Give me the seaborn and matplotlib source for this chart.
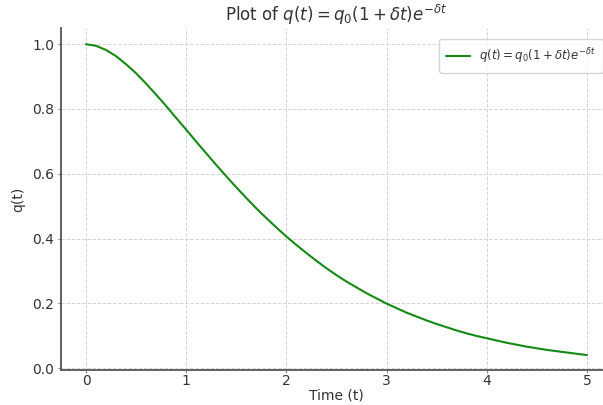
import matplotlib
matplotlib.use("Agg")
import matplotlib.pyplot as plt
import seaborn as sns
import pandas as pd

time_t = [0.0, 0.1, 0.2, 0.3, 0.4, 0.5, 0.6, 0.7, 0.8, 0.9,
          1.0, 1.1, 1.2, 1.3, 1.4, 1.5, 1.6, 1.7, 1.8, 1.9,
          2.0, 2.1, 2.2, 2.3, 2.4, 2.5, 2.6, 2.7, 2.8, 2.9,
          3.0, 3.1, 3.2, 3.3, 3.4, 3.5, 3.6, 3.7, 3.8, 3.9,
          4.0, 4.1, 4.2, 4.3, 4.4, 4.5, 4.6, 4.7, 4.8, 4.9, 5.0]
q_values = [1.000, 0.995, 0.982, 0.963, 0.938, 0.910, 0.878, 0.844, 0.809, 0.772,
            0.736, 0.699, 0.663, 0.627, 0.592, 0.558, 0.525, 0.493, 0.463, 0.434,
            0.406, 0.380, 0.355, 0.331, 0.308, 0.287, 0.267, 0.249, 0.231, 0.215,
            0.199, 0.185, 0.171, 0.159, 0.147, 0.136, 0.126, 0.116, 0.107, 0.099,
            0.092, 0.085, 0.078, 0.072, 0.066, 0.061, 0.056, 0.052, 0.048, 0.044, 0.040]
series_label = r"$q(t) = q_0(1 + \delta t)e^{-\delta t}$"
title_text = r"Plot of $q(t) = q_0(1 + \delta t)e^{-\delta t}$"

df = pd.DataFrame({"t": time_t, "q": q_values})

sns.set_style("white")
plt.rcParams["font.family"] = ["DejaVu Sans"]
plt.rcParams["text.color"] = "#333333"
plt.rcParams["axes.labelcolor"] = "#333333"
plt.rcParams["xtick.color"] = "#333333"
plt.rcParams["ytick.color"] = "#333333"

fig = plt.figure(figsize=(6.03, 4.05), dpi=100)
W, H = 603, 405
left, right, top, bottom = 61, 612, 28, 370
ax = fig.add_axes([left / W, 1 - bottom / H, (right - left) / W, (bottom - top) / H])

sns.lineplot(data=df, x="t", y="q", ax=ax, color="#138a13", linewidth=1.5, label=series_label)

ax.set_xlim(-0.25, 5.25)
ax.set_ylim(-0.006, 1.05)
ax.set_xticks([0, 1, 2, 3, 4, 5])
ax.set_yticks([0.0, 0.2, 0.4, 0.6, 0.8, 1.0])
ax.tick_params(axis="both", labelsize=10, length=2, width=0.8, color="#888888", direction="out", left=True, bottom=True)
ax.tick_params(axis="x", pad=1)
ax.tick_params(axis="y", pad=3)
ax.grid(True, linestyle="--", color="#d5d5d5", linewidth=0.7)
for s in ["top", "right"]:
    ax.spines[s].set_visible(False)
for s in ["left", "bottom"]:
    ax.spines[s].set_color("#555555")
    ax.spines[s].set_linewidth(1.3)

ax.set_xlabel("Time (t)", fontsize=10, labelpad=0.5)
ax.set_ylabel("q(t)", fontsize=10, labelpad=5)
ax.set_title(title_text, fontsize=12, pad=5)
leg = ax.legend(loc="upper right", fontsize=8.5, frameon=True, borderpad=0.6,
                bbox_to_anchor=(0.995, 0.985))
leg.get_frame().set_edgecolor("#cccccc")

fig.savefig("out.png", dpi=100)
